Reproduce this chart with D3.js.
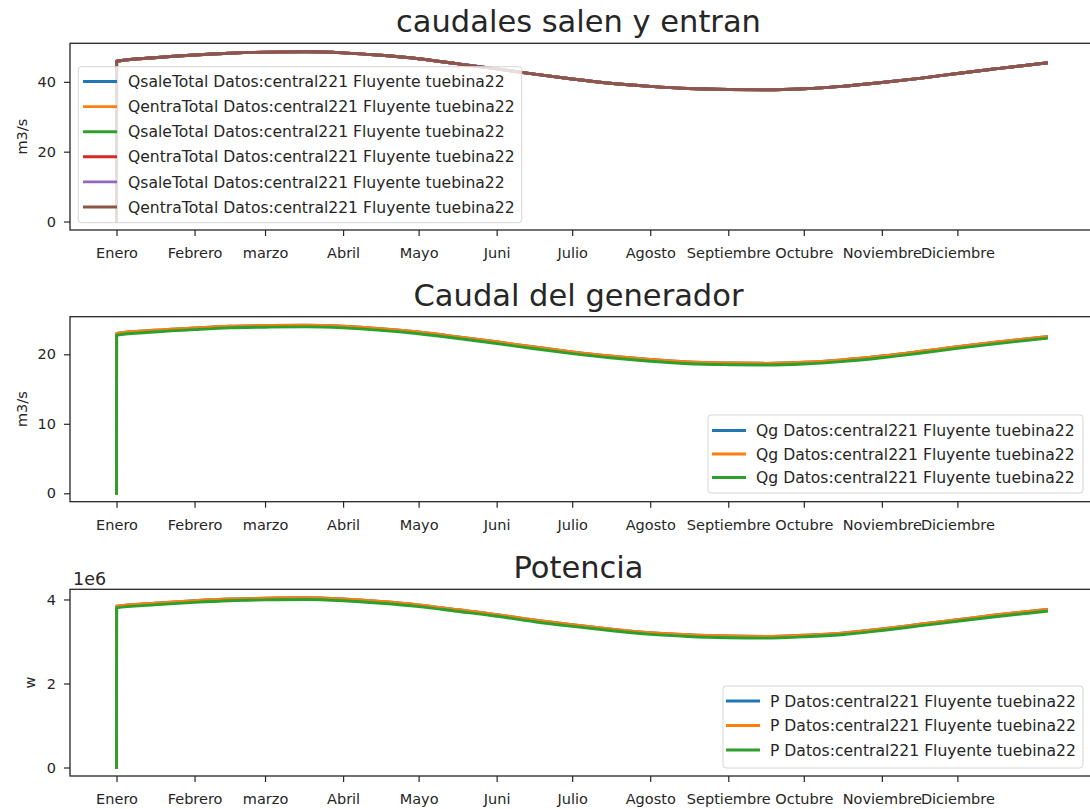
<!DOCTYPE html>
<html>
<head>
<meta charset="utf-8">
<script src="https://cdn.jsdelivr.net/npm/d3@7"></script>
<style>
  html, body { margin: 0; padding: 0; background: #fff; }
  svg { display: block; font-family: "DejaVu Sans", sans-serif; }
  .tick text { fill: #262626; }
</style>
</head>
<body>
<svg id="chart" width="1090" height="809"></svg>
<script>
// Month ticks (day of year at which each month starts)
const monthLabels = ["Enero", "Febrero", "marzo", "Abril", "Mayo", "Juni", "Julio",
  "Agosto", "Septiembre", "Octubre", "Noviembre", "Diciembre"];
const monthStartDays = [0, 31, 59, 90, 120, 151, 181, 212, 243, 273, 304, 334];

// Sample days of the simulated year
const sampleDays = [0, 0.05, 15, 31, 45, 59, 75, 90, 105, 120, 135, 151, 166, 181, 196,
  212, 227, 243, 258, 273, 288, 304, 319, 334, 349, 369.4];

// Total outflow / inflow (m3/s)
const qTotal = [0, 45.9, 46.9, 47.7, 48.2, 48.5, 48.6, 48.3, 47.6, 46.6, 45.2, 43.7, 42.2,
  40.8, 39.6, 38.7, 38.1, 37.8, 37.7, 38.0, 38.7, 39.8, 41.0, 42.4, 43.7, 45.4];

// Generator flow (m3/s)
const qgA = [0, 23.0, 23.45, 23.8, 24.05, 24.15, 24.2, 24.05, 23.7, 23.2, 22.55, 21.8, 21.05,
  20.35, 19.75, 19.25, 18.9, 18.75, 18.7, 18.85, 19.2, 19.75, 20.4, 21.1, 21.75, 22.55];
const qgB = [0, 22.75, 23.2, 23.55, 23.8, 23.9, 23.95, 23.8, 23.45, 22.95, 22.3, 21.55, 20.8,
  20.1, 19.5, 19.0, 18.65, 18.5, 18.45, 18.6, 18.95, 19.5, 20.15, 20.85, 21.5, 22.3];

// Power (W, in units of 1e6)
const powA = [0, 3.84, 3.91, 3.97, 4.01, 4.03, 4.04, 4.01, 3.95, 3.87, 3.76, 3.64, 3.51,
  3.40, 3.30, 3.21, 3.16, 3.13, 3.12, 3.15, 3.20, 3.30, 3.41, 3.52, 3.63, 3.76];
const powB = [0, 3.80, 3.87, 3.93, 3.97, 3.99, 4.00, 3.97, 3.91, 3.83, 3.72, 3.60, 3.47,
  3.36, 3.26, 3.17, 3.12, 3.09, 3.08, 3.11, 3.16, 3.26, 3.37, 3.48, 3.59, 3.72];

const tab10 = ["#1f77b4", "#ff7f0e", "#2ca02c", "#d62728", "#9467bd", "#8c564b"];

const panels = [
  {
    title: "caudales salen y entran", ylabel: "m3/s", top: 43.3, bottom: 230,
    yticks: [0, 20, 40], offsetText: null,
    series: [
      { label: "QsaleTotal Datos:central221 Fluyente tuebina22", values: qTotal },
      { label: "QentraTotal Datos:central221 Fluyente tuebina22", values: qTotal },
      { label: "QsaleTotal Datos:central221 Fluyente tuebina22", values: qTotal },
      { label: "QentraTotal Datos:central221 Fluyente tuebina22", values: qTotal },
      { label: "QsaleTotal Datos:central221 Fluyente tuebina22", values: qTotal },
      { label: "QentraTotal Datos:central221 Fluyente tuebina22", values: qTotal }
    ],
    legend: { x: 78.3, y: 66.7, w: 443.4, h: 156, rowY0: 81.5, rowStep: 25.1, handleX: 83, textX: 128 },
    ylabelX: 22
  },
  {
    title: "Caudal del generador", ylabel: "m3/s", top: 316.7, bottom: 501.7,
    yticks: [0, 10, 20], offsetText: null,
    series: [
      { label: "Qg Datos:central221 Fluyente tuebina22", values: qgA },
      { label: "Qg Datos:central221 Fluyente tuebina22", values: qgA },
      { label: "Qg Datos:central221 Fluyente tuebina22", values: qgB }
    ],
    legend: { x: 708, y: 415, w: 375, h: 78, rowY0: 430.5, rowStep: 23.5, handleX: 712, textX: 756 },
    ylabelX: 22
  },
  {
    title: "Potencia", ylabel: "w", top: 589.3, bottom: 776,
    yticks: [0, 2, 4], offsetText: "1e6",
    series: [
      { label: "P Datos:central221 Fluyente tuebina22", values: powA },
      { label: "P Datos:central221 Fluyente tuebina22", values: powA },
      { label: "P Datos:central221 Fluyente tuebina22", values: powB }
    ],
    legend: { x: 723, y: 686, w: 360, h: 82, rowY0: 701, rowStep: 24.5, handleX: 726, textX: 770 },
    ylabelX: 30
  }
];

const svg = d3.select("#chart");
const left = 70, right = 1093;

// x scale with matplotlib-style 5% margins around the data span
const xMin = d3.min(sampleDays), xMax = d3.max(sampleDays);
const xPad = (xMax - xMin) * 0.05;
const x = d3.scaleLinear().domain([xMin - xPad, xMax + xPad]).range([left, right]);

panels.forEach((p, pi) => {
  const all = p.series.flatMap(s => s.values);
  const yMin = d3.min(all), yMax = d3.max(all);
  const yPad = (yMax - yMin) * 0.05;
  const y = d3.scaleLinear().domain([yMin - yPad, yMax + yPad]).range([p.bottom, p.top]);

  const g = svg.append("g");

  const clipId = "clip" + pi;
  svg.append("clipPath").attr("id", clipId)
    .append("rect").attr("x", left).attr("y", p.top)
    .attr("width", right - left).attr("height", p.bottom - p.top);

  // data lines
  const line = d3.line()
    .x((d, i) => x(sampleDays[i]))
    .y(d => y(d))
    .curve(d3.curveMonotoneX);
  const lines = g.append("g").attr("clip-path", `url(#${clipId})`);
  p.series.forEach((s, i) => {
    lines.append("path")
      .attr("d", line(s.values))
      .attr("fill", "none")
      .attr("stroke", tab10[i])
      .attr("stroke-width", 2.9)
      .attr("stroke-linejoin", "round")
      .attr("stroke-linecap", "square");
  });

  // axes
  const xAxis = d3.axisBottom(x)
    .tickValues(monthStartDays)
    .tickFormat((d, i) => monthLabels[i])
    .tickSizeInner(6).tickSizeOuter(0).tickPadding(12);
  const gx = g.append("g").attr("transform", `translate(0,${p.bottom})`).call(xAxis);
  gx.select(".domain").remove();
  gx.selectAll(".tick line").attr("stroke", "#262626").attr("stroke-width", 1.2);
  gx.selectAll(".tick text").attr("font-size", 14.5).attr("font-family", "DejaVu Sans");

  const yAxis = d3.axisLeft(y)
    .tickValues(p.yticks)
    .tickFormat(d3.format("d"))
    .tickSizeInner(6).tickSizeOuter(0).tickPadding(8);
  const gy = g.append("g").attr("transform", `translate(${left},0)`).call(yAxis);
  gy.select(".domain").remove();
  gy.selectAll(".tick line").attr("stroke", "#262626").attr("stroke-width", 1.2);
  gy.selectAll(".tick text").attr("font-size", 14.5).attr("font-family", "DejaVu Sans");

  // frame
  g.append("rect")
    .attr("x", left).attr("y", p.top)
    .attr("width", right - left).attr("height", p.bottom - p.top)
    .attr("fill", "none").attr("stroke", "#262626").attr("stroke-width", 1.3);

  // title
  g.append("text")
    .attr("x", (left + right) / 2 - 3).attr("y", p.top - 11)
    .attr("text-anchor", "middle")
    .attr("font-size", 30.5).attr("fill", "#262626")
    .text(p.title);

  // y label
  g.append("text")
    .attr("transform", `translate(${p.ylabelX},${(p.top + p.bottom) / 2}) rotate(-90)`)
    .attr("text-anchor", "middle").attr("dy", "0.35em")
    .attr("font-size", 14.5).attr("fill", "#262626")
    .text(p.ylabel);

  if (p.offsetText) {
    g.append("text")
      .attr("x", left + 3).attr("y", p.top - 4)
      .attr("font-size", 17.5).attr("fill", "#262626")
      .text(p.offsetText);
  }

  // legend
  const L = p.legend;
  const lg = g.append("g");
  lg.append("rect")
    .attr("x", L.x).attr("y", L.y).attr("width", L.w).attr("height", L.h)
    .attr("rx", 3).attr("ry", 3)
    .attr("fill", "#fff").attr("fill-opacity", 0.8)
    .attr("stroke", "#d6d6d6").attr("stroke-width", 1);
  p.series.forEach((s, i) => {
    const cy = L.rowY0 + i * L.rowStep;
    lg.append("line")
      .attr("x1", L.handleX).attr("x2", L.handleX + 34)
      .attr("y1", cy).attr("y2", cy)
      .attr("stroke", tab10[i]).attr("stroke-width", 2.9);
    lg.append("text")
      .attr("x", L.textX).attr("y", cy).attr("dy", "0.36em")
      .attr("font-size", 15.6).attr("fill", "#262626")
      .text(s.label);
  });
});
</script>
</body>
</html>
